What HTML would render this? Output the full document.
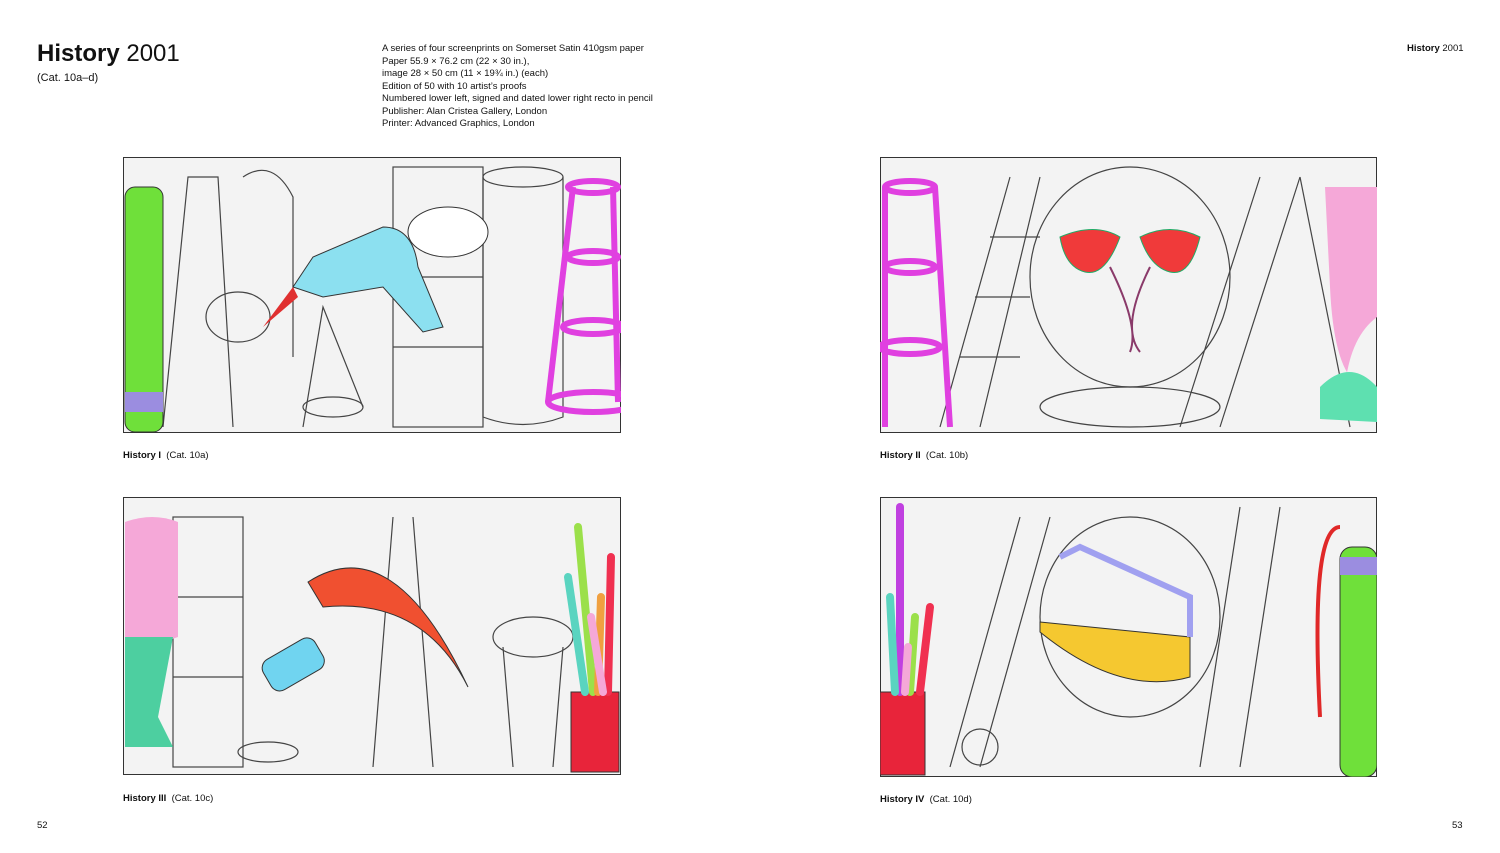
<!DOCTYPE html>
<html><head><meta charset="utf-8"><style>
body{margin:0;width:1500px;height:853px;background:#fff;font-family:"Liberation Sans",sans-serif;color:#111;position:relative;overflow:hidden}
.a{position:absolute;white-space:nowrap}
svg{position:absolute}
</style></head><body>
<div class="a" style="left:37px;top:40px;font-size:24px"><b>History</b> 2001</div>
<div class="a" style="left:37px;top:72px;font-size:11px">(Cat. 10a–d)</div>
<div class="a" style="left:382px;top:43px;font-size:9.5px;line-height:12.5px">A series of four screenprints on Somerset Satin 410gsm paper<br>Paper 55.9 × 76.2 cm (22 × 30 in.),<br>image 28 × 50 cm (11 × 19¾ in.) (each)<br>Edition of 50 with 10 artist’s proofs<br>Numbered lower left, signed and dated lower right recto in pencil<br>Publisher: Alan Cristea Gallery, London<br>Printer: Advanced Graphics, London</div>
<div class="a" style="left:1407px;top:43px;font-size:9.5px"><b>History</b> 2001</div>
<div class="a" style="left:123px;top:450px;font-size:9.5px"><b>History I</b> &nbsp;(Cat. 10a)</div>
<div class="a" style="left:880px;top:450px;font-size:9.5px"><b>History II</b> &nbsp;(Cat. 10b)</div>
<div class="a" style="left:123px;top:793px;font-size:9.5px"><b>History III</b> &nbsp;(Cat. 10c)</div>
<div class="a" style="left:880px;top:794px;font-size:9.5px"><b>History IV</b> &nbsp;(Cat. 10d)</div>
<div class="a" style="left:37px;top:820px;font-size:9.5px">52</div>
<div class="a" style="left:1452px;top:820px;font-size:9.5px">53</div>

<svg style="left:123px;top:157px" width="498" height="276" viewBox="0 0 498 276">
<rect x="0.5" y="0.5" width="497" height="275" fill="#f3f3f3" stroke="#333"/>
<g fill="none" stroke="#444" stroke-width="1.2">
<path d="M40 270 L65 20 L95 20 L110 270"/><ellipse cx="115" cy="160" rx="32" ry="25"/><path d="M120 20 Q150 0 170 40 L170 200"/>
<rect x="270" y="10" width="90" height="260"/><line x1="270" y1="120" x2="360" y2="120"/><line x1="270" y1="190" x2="360" y2="190"/>
<ellipse cx="400" cy="20" rx="40" ry="10"/><path d="M360 20 L360 260 Q400 275 440 260 L440 20"/>
<path d="M180 270 L200 150 L240 250"/><ellipse cx="210" cy="250" rx="30" ry="10"/>
</g>
<rect x="2" y="30" width="38" height="245" rx="10" fill="#6fe03a" stroke="#333"/>
<rect x="2" y="235" width="38" height="20" fill="#9b8de0"/>
<path d="M170 130 L190 100 L260 70 Q290 70 295 110 L320 170 L300 175 L260 130 L200 140 Z" fill="#8ce0f0" stroke="#333"/>
<path d="M170 130 L140 170 L175 140Z" fill="#e03030"/>
<ellipse cx="325" cy="75" rx="40" ry="25" fill="#fff" stroke="#333"/>
<g fill="none" stroke="#e040e0" stroke-width="6"><ellipse cx="470" cy="30" rx="25" ry="6"/><ellipse cx="470" cy="100" rx="25" ry="6"/><ellipse cx="470" cy="170" rx="30" ry="7"/><ellipse cx="470" cy="245" rx="45" ry="10"/><line x1="450" y1="30" x2="425" y2="245"/><line x1="490" y1="30" x2="495" y2="245"/></g>
</svg>

<svg style="left:880px;top:157px" width="497" height="276" viewBox="0 0 497 276">
<rect x="0.5" y="0.5" width="496" height="275" fill="#f3f3f3" stroke="#333"/>
<g fill="none" stroke="#444" stroke-width="1.2">
<path d="M60 270 L130 20 M100 270 L160 20"/><path d="M80 200 L140 200 M95 140 L150 140 M110 80 L160 80"/>
<ellipse cx="250" cy="120" rx="100" ry="110"/><ellipse cx="250" cy="250" rx="90" ry="20"/>
<path d="M300 270 L380 20 M340 270 L420 20"/><path d="M420 20 L470 270"/>
</g>
<g fill="none" stroke="#e040e0" stroke-width="6"><ellipse cx="30" cy="30" rx="25" ry="6"/><ellipse cx="30" cy="110" rx="25" ry="6"/><ellipse cx="30" cy="190" rx="30" ry="7"/><line x1="5" y1="30" x2="5" y2="270"/><line x1="55" y1="30" x2="70" y2="270"/></g>
<path d="M180 80 Q215 65 240 80 Q225 120 205 115 Q185 110 180 80Z" fill="#f03a3a" stroke="#2a6"/>
<path d="M260 80 Q290 65 320 80 Q310 120 290 115 Q270 110 260 80Z" fill="#f03a3a" stroke="#2a6"/>
<path d="M230 110 Q260 170 250 195 M270 110 Q240 170 260 195" stroke="#8a3a6a" stroke-width="2" fill="none"/>
<path d="M445 30 L497 30 L497 160 Q470 180 465 230 L440 250 L497 265 L497 230 Q455 240 450 130 Z" fill="#f5a8d8"/>
<path d="M440 230 Q470 200 497 230 L497 265 L440 262Z" fill="#5ee0b0"/>
</svg>

<svg style="left:123px;top:497px" width="498" height="278" viewBox="0 0 498 278">
<rect x="0.5" y="0.5" width="497" height="277" fill="#f3f3f3" stroke="#333"/>
<g fill="none" stroke="#444" stroke-width="1.2">
<rect x="50" y="20" width="70" height="250"/><line x1="50" y1="100" x2="120" y2="100"/><line x1="50" y1="180" x2="120" y2="180"/>
<path d="M250 270 L270 20 M310 270 L290 20"/><ellipse cx="410" cy="140" rx="40" ry="20"/><path d="M380 150 L390 270 M440 150 L430 270"/>
<ellipse cx="145" cy="255" rx="30" ry="10"/>
</g>
<path d="M2 25 Q30 15 55 25 L55 140 Q30 150 2 140Z" fill="#f5a8d8"/>
<path d="M2 140 L50 140 L35 220 L50 250 L2 250Z" fill="#4dcfa0"/>
<path d="M185 85 Q270 30 345 190 Q300 100 200 110Z" fill="#f05030" stroke="#333"/>
<rect x="140" y="150" width="60" height="35" rx="10" fill="#70d4f0" stroke="#333" transform="rotate(-30 170 167)"/>
<rect x="448" y="195" width="48" height="80" fill="#e8243a" stroke="#333"/>
<g stroke-width="8" stroke-linecap="round"><line x1="455" y1="30" x2="470" y2="195" stroke="#9be04a"/><line x1="445" y1="80" x2="462" y2="195" stroke="#5ad4c0"/><line x1="478" y1="100" x2="475" y2="195" stroke="#f0a040"/><line x1="488" y1="60" x2="485" y2="195" stroke="#f03050"/><line x1="468" y1="120" x2="480" y2="195" stroke="#f5a8d8"/></g>
</svg>

<svg style="left:880px;top:497px" width="497" height="280" viewBox="0 0 497 280">
<rect x="0.5" y="0.5" width="496" height="279" fill="#f3f3f3" stroke="#333"/>
<g fill="none" stroke="#444" stroke-width="1.2">
<path d="M70 270 L140 20 M100 270 L170 20"/><ellipse cx="250" cy="120" rx="90" ry="100"/>
<path d="M320 270 L360 10 M360 270 L400 10"/><circle cx="100" cy="250" r="18"/>
</g>
<rect x="0" y="195" width="45" height="83" fill="#e8243a" stroke="#333"/>
<g stroke-width="8" stroke-linecap="round"><line x1="20" y1="10" x2="20" y2="195" stroke="#c040e0"/><line x1="10" y1="100" x2="15" y2="195" stroke="#5ad4c0"/><line x1="35" y1="120" x2="30" y2="195" stroke="#9be04a"/><line x1="50" y1="110" x2="40" y2="195" stroke="#f03050"/><line x1="28" y1="150" x2="25" y2="195" stroke="#f5a8d8"/></g>
<path d="M160 125 L310 140 L310 180 Q240 200 160 135Z" fill="#f5c830" stroke="#333"/>
<path d="M180 60 L200 50 L310 100 L310 140" fill="none" stroke="#a0a0f0" stroke-width="6"/>
<rect x="460" y="50" width="37" height="230" rx="12" fill="#6fe03a" stroke="#333"/>
<rect x="460" y="60" width="37" height="18" fill="#9b8de0"/>
<path d="M460 30 Q430 30 440 220" fill="none" stroke="#e02828" stroke-width="4"/>
</svg>
</body></html>
